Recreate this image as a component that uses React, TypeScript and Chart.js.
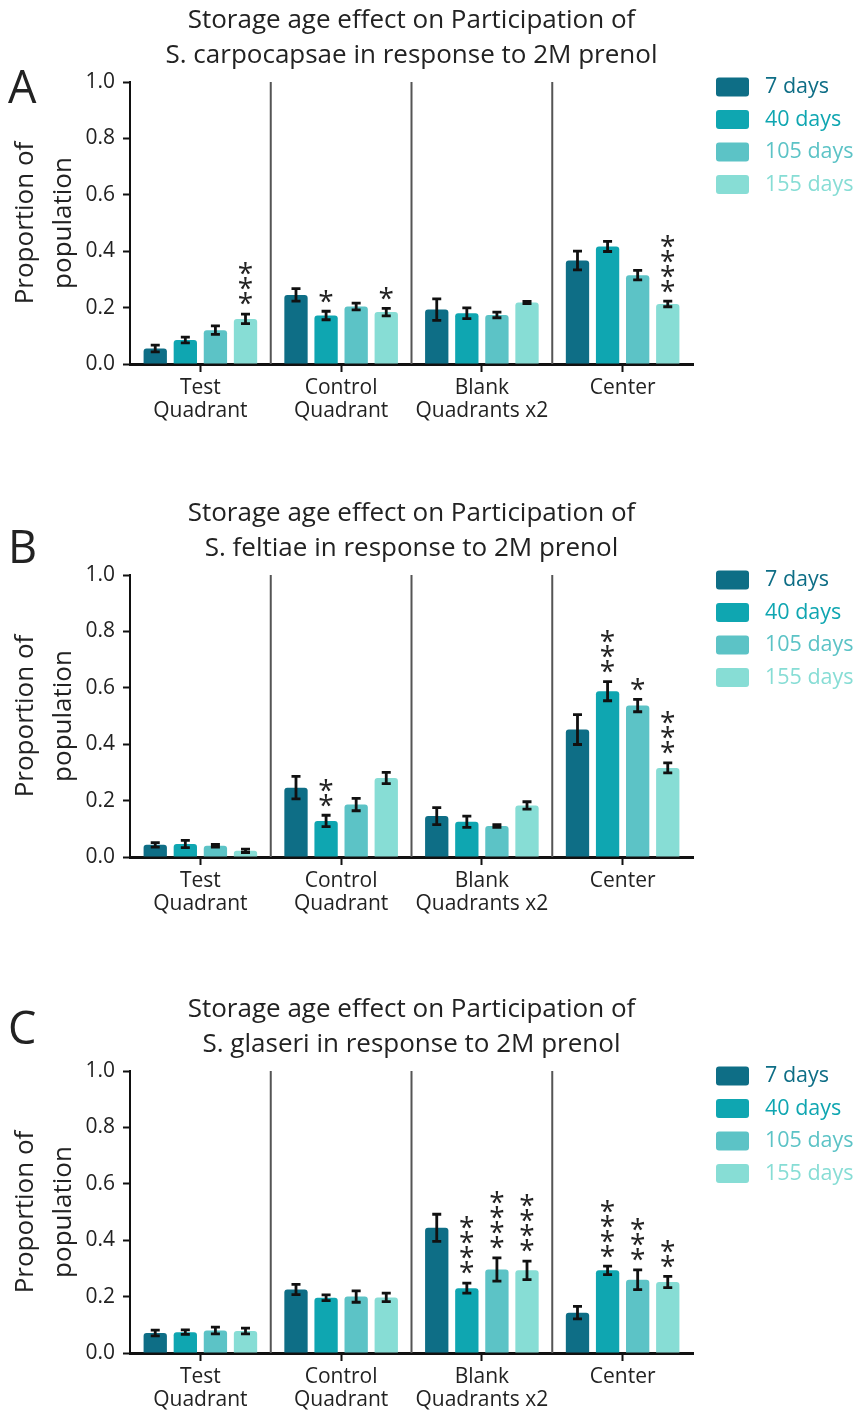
import React, { useEffect, useRef } from "react";
import { Chart, registerables } from "chart.js";

Chart.register(...registerables);

// ---------- shared data ----------
const CATEGORIES: string[][] = [
  ["Test", "Quadrant"],
  ["Control", "Quadrant"],
  ["Blank", "Quadrants x2"],
  ["Center"],
];
const SERIES = ["7 days", "40 days", "105 days", "155 days"];
const COLORS = ["#0e6e86", "#0fa6b1", "#5cc3c6", "#87ddd5"];
const Y_MIN = 0;
const Y_MAX = 1;
const Y_STEP = 0.2;
const TITLE_LINE_1 = "Storage age effect on Participation of";
const Y_TITLE = ["Proportion of", "population"];

// ---------- panel A: S. carpocapsae ----------
const A_MEANS = [
  [0.055, 0.245, 0.193, 0.367],
  [0.085, 0.172, 0.18, 0.417],
  [0.12, 0.204, 0.174, 0.315],
  [0.16, 0.184, 0.218, 0.213],
];
const A_ERRORS = [
  [0.012, 0.022, 0.038, 0.033],
  [0.01, 0.015, 0.019, 0.018],
  [0.015, 0.012, 0.01, 0.017],
  [0.017, 0.013, 0.004, 0.01],
];
const A_STARS = [
  ["", "", "", ""],
  ["", "*", "", ""],
  ["", "", "", ""],
  ["***", "*", "", "****"],
];

// ---------- panel B: S. feltiae ----------
const B_MEANS = [
  [0.043, 0.246, 0.145, 0.452],
  [0.046, 0.128, 0.125, 0.588],
  [0.04, 0.186, 0.11, 0.537],
  [0.022, 0.28, 0.183, 0.316],
];
const B_ERRORS = [
  [0.008, 0.04, 0.03, 0.053],
  [0.013, 0.02, 0.02, 0.034],
  [0.005, 0.022, 0.005, 0.022],
  [0.006, 0.02, 0.013, 0.018],
];
const B_STARS = [
  ["", "", "", ""],
  ["", "**", "", "***"],
  ["", "", "", "*"],
  ["", "", "", "***"],
];

// ---------- panel C: S. glaseri ----------
const C_MEANS = [
  [0.071, 0.225, 0.444, 0.143],
  [0.074, 0.196, 0.23, 0.293],
  [0.08, 0.2, 0.296, 0.26],
  [0.078, 0.197, 0.293, 0.252],
];
const C_ERRORS = [
  [0.01, 0.018, 0.048, 0.022],
  [0.008, 0.01, 0.018, 0.015],
  [0.012, 0.02, 0.041, 0.035],
  [0.01, 0.015, 0.033, 0.02],
];
const C_STARS = [
  ["", "", "", ""],
  ["", "", "****", "****"],
  ["", "", "****", "***"],
  ["", "", "****", "**"],
];

const FONT = '"Open Sans", "Noto Sans", sans-serif';
const TEXT = "#222222";
const W = 856;
const H = 423;
const STAR_SIZE = 28;

const decorPlugin = {
  id: "decor",
  afterDatasetsDraw(chart: any, _args: any, opts: any) {
    const { ctx, chartArea } = chart;
    const x = chart.scales.x;
    const y = chart.scales.y;
    ctx.save();
    // category separators
    ctx.strokeStyle = "#555555";
    ctx.lineWidth = 2;
    const n = chart.data.labels.length;
    for (let i = 0; i < n - 1; i++) {
      const bx = (x.getPixelForValue(i) + x.getPixelForValue(i + 1)) / 2;
      ctx.beginPath();
      ctx.moveTo(bx, chartArea.top);
      ctx.lineTo(bx, chartArea.bottom);
      ctx.stroke();
    }
    // error bars + stars
    chart.data.datasets.forEach((ds: any, di: number) => {
      const meta = chart.getDatasetMeta(di);
      meta.data.forEach((bar: any, i: number) => {
        const v = ds.data[i];
        const e = opts.errors[di][i];
        const yt = y.getPixelForValue(v + e);
        const yb = y.getPixelForValue(v - e);
        const cx = bar.x;
        ctx.strokeStyle = "#111111";
        ctx.lineWidth = 2.8;
        ctx.beginPath();
        ctx.moveTo(cx, yt);
        ctx.lineTo(cx, yb);
        ctx.moveTo(cx - 4.5, yt);
        ctx.lineTo(cx + 4.5, yt);
        ctx.moveTo(cx - 4.5, yb);
        ctx.lineTo(cx + 4.5, yb);
        ctx.stroke();
        const s: string = opts.stars[di][i];
        if (s) {
          ctx.fillStyle = TEXT;
          ctx.font = `${STAR_SIZE}px ${FONT}`;
          ctx.textAlign = "center";
          ctx.textBaseline = "alphabetic";
          for (let k = 0; k < s.length; k++) {
            const centerY = yt - 16 - k * 15;
            ctx.fillText("*", cx, centerY + 0.55 * STAR_SIZE);
          }
        }
      });
    });
    ctx.restore();
  },
  afterDraw(chart: any, _args: any, opts: any) {
    const { ctx, chartArea } = chart;
    ctx.save();
    // legend
    chart.data.datasets.forEach((ds: any, i: number) => {
      const cy = chartArea.top + 5 + i * 32.5;
      const bx = chartArea.right + 23;
      ctx.fillStyle = ds.backgroundColor;
      ctx.beginPath();
      (ctx as any).roundRect(bx, cy - 9.5, 33, 19, 3);
      ctx.fill();
      ctx.font = `21.5px ${FONT}`;
      ctx.textAlign = "left";
      ctx.textBaseline = "middle";
      ctx.fillText(ds.label, bx + 49, cy);
    });
    // panel letter
    ctx.fillStyle = TEXT;
    ctx.font = `45px ${FONT}`;
    ctx.textAlign = "left";
    ctx.textBaseline = "alphabetic";
    ctx.fillText(opts.letter, 8, opts.letterBaseline);
    ctx.restore();
  },
};

type PanelProps = {
  top: number;
  letter: string;
  letterBaseline: number;
  species: string;
  means: number[][];
  errors: number[][];
  stars: string[][];
};

function Panel({ top, letter, letterBaseline, species, means, errors, stars }: PanelProps) {
  const ref = useRef<HTMLCanvasElement | null>(null);
  useEffect(() => {
    if (!ref.current) return;
    const chart = new Chart(ref.current, {
      type: "bar",
      data: {
        labels: CATEGORIES,
        datasets: SERIES.map((label, i) => ({
          label,
          data: means[i],
          backgroundColor: COLORS[i],
          borderWidth: 0,
          borderRadius: 3,
          categoryPercentage: 0.855,
          barPercentage: 0.775,
        })),
      },
      options: {
        responsive: false,
        animation: false,
        devicePixelRatio: 1,
        layout: { padding: { left: 0, right: W - 693, top: 0, bottom: 0 } },
        plugins: {
          legend: { display: false },
          tooltip: { enabled: false },
          title: {
            display: true,
            fullSize: false,
            text: [TITLE_LINE_1, `${species} in response to 2M prenol`],
            color: TEXT,
            font: { family: FONT, size: 26, weight: "normal", lineHeight: 1.35 },
            padding: { top: 3, bottom: 8.8 },
          },
          decor: { errors, stars, letter, letterBaseline },
        } as any,
        scales: {
          x: {
            grid: {
              display: true,
              drawOnChartArea: false,
              drawTicks: true,
              tickLength: 8,
              tickWidth: 2,
              tickColor: "#111111",
              offset: false,
            },
            border: { display: true, color: "#111111", width: 3 },
            ticks: {
              color: TEXT,
              font: { family: FONT, size: 21, lineHeight: 1.1 },
              padding: 4,
              maxRotation: 0,
              autoSkip: false,
            },
            afterFit: (s: any) => {
              s.height = H - 364;
            },
          },
          y: {
            min: Y_MIN,
            max: Y_MAX,
            grid: {
              display: true,
              drawOnChartArea: false,
              drawTicks: true,
              tickLength: 7,
              tickWidth: 2,
              tickColor: "#111111",
            },
            border: { display: true, color: "#111111", width: 2 },
            ticks: {
              stepSize: Y_STEP,
              color: TEXT,
              font: { family: FONT, size: 21 },
              padding: 8,
              callback: (v: any) => Number(v).toFixed(1),
            },
            title: {
              display: true,
              text: Y_TITLE,
              color: TEXT,
              font: { family: FONT, size: 26, lineHeight: 1.46 },
              padding: { top: 7, bottom: 0 },
            },
            afterFit: (s: any) => {
              s.width = 130;
            },
          },
        },
      },
      plugins: [decorPlugin],
    });
    return () => chart.destroy();
  }, []);
  return (
    <canvas
      ref={ref}
      width={W}
      height={H}
      style={{ position: "absolute", left: 0, top, width: W, height: H, display: "block" }}
    />
  );
}

export default function App() {
  return (
    <div style={{ position: "absolute", left: 0, top: 0, width: W, height: 1412, background: "#fff", overflow: "hidden" }}>
      <Panel top={0} letter="A" letterBaseline={103} species="S. carpocapsae" means={A_MEANS} errors={A_ERRORS} stars={A_STARS} />
      <Panel top={493} letter="B" letterBaseline={70} species="S. feltiae" means={B_MEANS} errors={B_ERRORS} stars={B_STARS} />
      <Panel top={989} letter="C" letterBaseline={55} species="S. glaseri" means={C_MEANS} errors={C_ERRORS} stars={C_STARS} />
      <span style={{ position: "absolute", left: 849, top: 1389, font: `24px ${FONT}`, color: "#000" }}>.</span>
    </div>
  );
}
